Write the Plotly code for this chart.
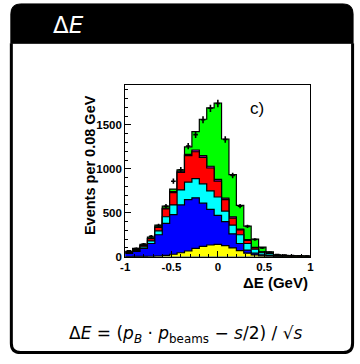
import numpy as np
import plotly.graph_objects as go

# ---------------- data ----------------
bin_centers = [-0.96, -0.88, -0.80, -0.72, -0.64, -0.56, -0.48, -0.40, -0.32, -0.24,
               -0.16, -0.08, 0.00, 0.08, 0.16, 0.24, 0.32, 0.40, 0.48, 0.56,
               0.64, 0.72, 0.80, 0.88, 0.96]
bin_width = 0.08

yellow = [2, 3, 4, 5, 8, 15, 28, 45, 65, 95, 118, 133, 140, 125, 100, 70, 40, 20, 10, 5, 3, 2, 1, 1, 1]
blue = [36, 57, 91, 145, 242, 365, 452, 545, 585, 575, 492, 407, 330, 275, 160, 80, 35, 20, 10, 10, 3, 2, 2, 1, 1]
cyan = [8, 12, 17, 30, 45, 75, 110, 170, 200, 220, 220, 210, 210, 120, 100, 100, 75, 45, 25, 20, 6, 4, 3, 3, 2]
red = [7, 12, 16, 25, 40, 90, 140, 200, 300, 305, 300, 260, 180, 130, 80, 55, 35, 15, 7, 3, 2, 1, 1, 1, 1]
magenta = [2, 2, 2, 3, 5, 7, 10, 15, 15, 20, 20, 20, 20, 18, 15, 10, 10, 5, 3, 2, 1, 1, 0, 0, 0]
green = [5, 8, 12, 14, 20, 23, 30, 15, 85, 210, 415, 665, 870, 672, 480, 270, 153, 95, 53, 15, 7, 5, 4, 4, 3]

data_counts = [67, 94, 145, 232, 355, 575, 860, 990, 1260, 1390, 1560, 1690, 1745, 1335, 925,
               575, 345, 195, 100, 50, 25, 18, 12, 10, 8]

x_tick_vals = [-1, -0.5, 0, 0.5, 1]
x_tick_text = ["-1", "-0.5", "0", "0.5", "1"]
y_tick_vals = [0, 500, 1000, 1500]
y_tick_text = ["0", "500", "1000", "1500"]

components = [("yellow", yellow, "#FFFF00"), ("blue", blue, "#0000FF"), ("cyan", cyan, "#00FFFF"),
              ("red", red, "#FF0000"), ("magenta", magenta, "#CC00CC"), ("green", green, "#00FF00")]

# ---------------- figure ----------------
W, H = 360, 364
fig = go.Figure()

centers = np.array(bin_centers)
edges = np.append(centers - bin_width / 2, centers[-1] + bin_width / 2)

cum = np.zeros(len(centers))
stacks = []
for name, vals, col in components:
    cum = cum + np.array(vals, dtype=float)
    stacks.append((name, cum.copy(), col))

# draw from top-most cumulative down so lower layers overlay
for name, vals, col in reversed(stacks):
    ys = np.append(vals, vals[-1])
    fig.add_trace(go.Scatter(x=edges, y=ys, mode="lines", line=dict(shape="hv", color="black", width=1.2),
                             fill="tozeroy", fillcolor=col, showlegend=False, hoverinfo="skip"))

dc = np.array(data_counts, dtype=float)
fig.add_trace(go.Scatter(x=centers, y=dc, mode="markers", marker=dict(size=1, color="black"),
                         error_y=dict(type="data", array=np.sqrt(dc), width=0, thickness=1.6, color="black"),
                         error_x=dict(type="constant", value=0.025, width=0, thickness=1.6, color="black"),
                         showlegend=False, hoverinfo="skip"))

def px(x):
    return x / W

def py(y):
    return 1 - y / H

tickfont = dict(family="Liberation Sans, Arial", size=11.5, color="black", weight="bold")

fig.update_layout(
    width=W, height=H, margin=dict(l=0, r=0, t=0, b=0),
    paper_bgcolor="white", plot_bgcolor="white",
    xaxis=dict(domain=[px(123.3), px(313.3)], range=[-1, 1], tickvals=x_tick_vals, ticktext=x_tick_text,
               ticks="inside", ticklen=6, tickwidth=1, tickcolor="black", showgrid=False, zeroline=False,
               showline=True, linecolor="black", linewidth=1, mirror=True, tickfont=tickfont,
               minor=dict(dtick=0.1, ticks="inside", ticklen=3, tickcolor="black", showgrid=False)),
    yaxis=dict(domain=[py(261), py(86)], range=[0, 1960], tickvals=y_tick_vals, ticktext=y_tick_text,
               ticks="inside", ticklen=6, tickwidth=1, tickcolor="black", showgrid=False, zeroline=False,
               showline=True, linecolor="black", linewidth=1, mirror=True, tickfont=tickfont,
               minor=dict(dtick=100, ticks="inside", ticklen=3, tickcolor="black", showgrid=False)),
)

hdr = (f"M {px(6)},{py(44)} L {px(6)},{py(14)} Q {px(6)},{py(4)} {px(16)},{py(4)} "
       f"L {px(347)},{py(4)} Q {px(357)},{py(4)} {px(357)},{py(14)} L {px(357)},{py(44)} Z")
body = (f"M {px(6.5)},{py(44)} L {px(6.5)},{py(349)} Q {px(6.5)},{py(358.5)} {px(16)},{py(358.5)} "
        f"L {px(347)},{py(358.5)} Q {px(356.5)},{py(358.5)} {px(356.5)},{py(349)} L {px(356.5)},{py(44)}")
fig.add_shape(type="path", path=hdr, xref="paper", yref="paper", fillcolor="black", line=dict(color="black", width=1))
fig.add_shape(type="path", path=body, xref="paper", yref="paper", line=dict(color="black", width=3))

ann_font = "Liberation Sans, Arial"
fig.add_annotation(text="Δ<i>E</i>", x=px(47), y=py(25), xref="paper", yref="paper", xanchor="left",
                   yanchor="middle", showarrow=False, font=dict(family="DejaVu Sans", size=23, color="white"))
fig.add_annotation(text="Events per 0.08 GeV", x=px(87), y=py(168), xref="paper", yref="paper",
                   textangle=-90, showarrow=False, xanchor="center", yanchor="middle",
                   font=dict(family=ann_font, size=14.5, color="black", weight="bold"))
fig.add_annotation(text="ΔE (GeV)", x=px(313), y=py(287), xref="paper", yref="paper", xanchor="right",
                   yanchor="middle", showarrow=False, font=dict(family=ann_font, size=15, color="black", weight="bold"))
fig.add_annotation(text="c)", x=px(258), y=py(110), xref="paper", yref="paper", xanchor="center",
                   yanchor="middle", showarrow=False, font=dict(family=ann_font, size=17, color="black"))
fig.add_annotation(text="Δ<i>E</i> = (<i>p<sub>B</sub></i> · <i>p</i><sub>beams</sub> − <i>s</i>/2) / √<i>s</i>",
                   x=px(185), y=py(340), xref="paper", yref="paper", xanchor="center", yanchor="middle",
                   showarrow=False, font=dict(family="DejaVu Sans", size=17, color="black"))

fig.write_html("out.html", config={"displayModeBar": False},
               post_script="document.body.style.margin='0';document.body.style.overflow='hidden';")
